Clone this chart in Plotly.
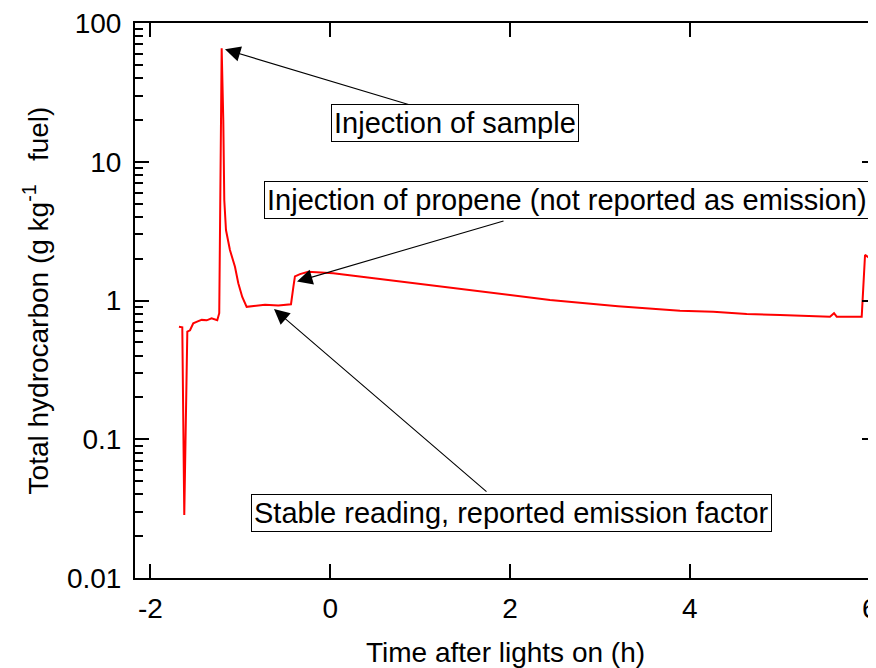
import plotly.graph_objects as go

# Data
time_h = [-1.683, -1.646, -1.624, -1.59, -1.56, -1.524, -1.468, -1.43, -1.375, -1.32,
          -1.257, -1.235, -1.208, -1.19, -1.179, -1.16, -1.116, -1.06, -1.023, -0.979,
          -0.93, -0.874, -0.726, -0.578, -0.437, -0.41, -0.393, -0.337, -0.245, 0.033,
          0.775, 1.517, 2.258, 2.444, 3.2, 3.89, 4.26, 4.632, 5.002, 5.373,
          5.558, 5.603, 5.633, 5.911, 5.948, 6.003, 6.059]
thc = [0.647, 0.64, 0.0284, 0.596, 0.61, 0.686, 0.71, 0.725, 0.72, 0.745,
       0.72, 0.81, 65.8, 20, 5.3, 3.22, 2.31, 1.75, 1.33, 1.06,
       0.90, 0.91, 0.93, 0.92, 0.94, 1.26, 1.49, 1.55, 1.61, 1.57,
       1.37, 1.19, 1.04, 1.01, 0.91, 0.844, 0.83, 0.80, 0.785, 0.77,
       0.765, 0.81, 0.765, 0.765, 2.13, 2.01, 1.66]

x_ticks = [-2, 0, 2, 4, 6]
x_tick_labels = ["-2", "0", "2", "4", "6"]
y_ticks = [0.01, 0.1, 1, 10, 100]
y_tick_labels = ["0.01", "0.1", "1", "10", "100"]
minor_y = [m * d for d in [0.01, 0.1, 1, 10] for m in range(2, 10)]

FONT = "Liberation Sans, Arial, sans-serif"

fig = go.Figure()
fig.add_trace(go.Scatter(x=time_h, y=thc, mode="lines",
                         line=dict(color="#ff0000", width=2), showlegend=False))

def arrow(x, ylog, ax, ay):
    return dict(x=x, y=ylog, xref="x", yref="y", text="", showarrow=True,
                ax=ax, ay=ay, arrowhead=2, arrowsize=2.8, arrowwidth=1.1,
                arrowcolor="black", standoff=0)

def box(x, ylog, text):
    return dict(x=x, y=ylog, xref="x", yref="y", text=text, showarrow=False,
                font=dict(family=FONT, size=29, color="black"),
                bordercolor="black", borderwidth=1, borderpad=2, bgcolor="white")

annotations = [
    arrow(-1.171, 1.81, 190, 57),
    arrow(-0.370, 0.137, 208, -61),
    arrow(-0.626, -0.061, 214, 184),
    box(1.387, 1.276, "Injection of sample"),
    box(2.638, 0.721, "Injection of propene (not reported as emission)"),
    box(2.021, -1.532, "Stable reading, reported emission factor"),
]

# The page body adds an 8px offset, so margins are shifted to compensate.
fig.update_layout(
    width=876, height=668,
    margin=dict(l=127, r=8, t=15, b=98, autoexpand=False),
    paper_bgcolor="white", plot_bgcolor="white",
    font=dict(family=FONT, size=28, color="black"),
    annotations=annotations,
    xaxis=dict(range=[-2.172, 6.070], tickmode="array", tickvals=x_ticks,
               ticktext=x_tick_labels, automargin=False, ticklabeloverflow="allow",
               ticks="inside", ticklen=14, tickwidth=1.5, tickcolor="black",
               showline=True, linecolor="black", linewidth=2, mirror="ticks",
               showgrid=False, zeroline=False, ticklabelstandoff=4,
               tickfont=dict(size=28),
               title=dict(text="Time after lights on (h)", font=dict(size=28), standoff=20)),
    yaxis=dict(type="log", range=[-2, 2], tickmode="array", tickvals=y_ticks,
               ticktext=y_tick_labels, automargin=False, ticklabeloverflow="allow",
               ticks="inside", ticklen=14, tickwidth=1.5, tickcolor="black",
               minor=dict(tickvals=minor_y, ticks="inside", ticklen=8,
                          tickwidth=1.5, tickcolor="black", showgrid=False),
               showline=True, linecolor="black", linewidth=2, mirror="ticks",
               showgrid=False, zeroline=False, ticklabelstandoff=6,
               tickfont=dict(size=28),
               title=dict(text="Total hydrocarbon (g kg<sup>-1</sup>&nbsp;&nbsp; fuel)",
                          font=dict(size=28), standoff=10)),
)

fig.write_html("out.html")
